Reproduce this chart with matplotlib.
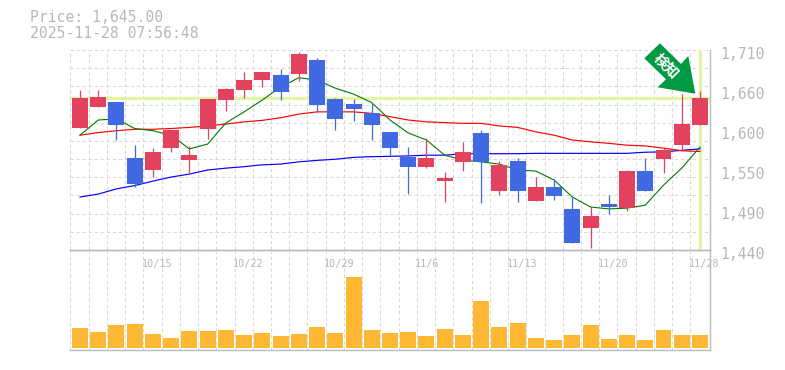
import numpy as np
import matplotlib
matplotlib.use("Agg")
import matplotlib.pyplot as plt
from matplotlib.patches import Polygon
from matplotlib.transforms import ScaledTranslation

# ---- data ----
opens = [1604.5, 1633, 1640, 1564, 1548, 1577.5, 1561.5, 1603.5, 1642.5, 1656, 1669.5, 1676, 1677.5, 1696.5,
         1644, 1637, 1625, 1599.5, 1565.5, 1552, 1533, 1558.5, 1597.5, 1519.5, 1560, 1506, 1525, 1495.5, 1469.5,
         1502, 1496.5, 1546.5, 1562.5, 1581.5, 1608.5]
closes = [1645, 1646, 1609, 1529, 1572.5, 1602, 1568, 1644, 1657, 1669.5, 1680, 1653.5, 1704.5, 1635.5,
          1617, 1630.5, 1608.5, 1577.5, 1552, 1564, 1537, 1572.5, 1559, 1555, 1519.5, 1525, 1513, 1449.5, 1486,
          1498, 1546, 1519.5, 1575, 1610, 1645]
highs = [1656, 1656, 1640, 1581.5, 1577.5, 1602, 1580.5, 1644, 1658.5, 1680.5, 1680, 1684.5, 1707, 1699,
         1645, 1644, 1638.5, 1599.5, 1579, 1591, 1545.5, 1586, 1602, 1560, 1564, 1538.5, 1536, 1513, 1499.5,
         1514, 1547.5, 1564, 1579, 1650.5, 1655]
lows = [1604.5, 1633, 1588.5, 1525, 1538.5, 1572.5, 1544, 1589.5, 1627.5, 1645, 1660, 1642.5, 1668, 1626.5,
        1602, 1614, 1588.5, 1568.5, 1515.5, 1550.5, 1505, 1546.5, 1503.5, 1514.5, 1505, 1506, 1507.5, 1449.5,
        1442.5, 1488.5, 1492.5, 1519.5, 1544, 1573.5, 1608.5]
ma_short = [1595, 1615.5, 1617, 1604, 1601, 1595, 1576.5, 1583, 1611.5, 1626.5, 1642.5, 1660, 1672.5, 1669.5,
            1658.5, 1650.5, 1639, 1615.5, 1598, 1588.5, 1568, 1561.5, 1559, 1556, 1548, 1546.5, 1534.5, 1511.5,
            1498, 1495.5, 1496.5, 1500.5, 1527.5, 1550.5, 1579]
ma_mid = [1595, 1598.5, 1601, 1603, 1603, 1604, 1605.5, 1607.5, 1610, 1613, 1615, 1618.5, 1623.5, 1626.5,
          1626.5, 1626.5, 1624.5, 1620, 1615.5, 1613, 1612, 1611, 1611, 1607.5, 1605.5, 1599.5, 1595, 1588.5,
          1586, 1584, 1581.5, 1580.5, 1577.5, 1574, 1573]
ma_long = [1511.5, 1515.5, 1522.5, 1527, 1533, 1538.5, 1542.5, 1548, 1550.5, 1552.5, 1555, 1556, 1559, 1561,
           1562.5, 1565, 1566, 1566.5, 1567, 1568, 1568, 1570, 1570, 1570, 1570, 1570.5, 1570.5, 1570.5,
           1570.5, 1570.5, 1570.5, 1572, 1572.5, 1574.5, 1576.5]
volumes = [20, 16, 23, 24, 14, 10, 17, 17, 18, 13, 15, 12, 14, 21, 15, 71, 18, 15, 16, 12, 19, 13, 47, 21, 25,
           10, 8, 13, 23, 9, 13, 8, 18, 13, 13]
date_idx = [4, 9, 14, 19, 24, 29, 34]
date_labels = ["10/15", "10/22", "10/29", "11/6", "11/13", "11/20", "11/28"]
price_ticks = [1440, 1494, 1548, 1602, 1656, 1710]
price_labels = ["1,440", "1,490", "1,550", "1,600", "1,660", "1,710"]
last_price = 1645.0
title_lines = ["Price: 1,645.00", "2025-11-28 07:56:48"]
badge_text = "検知"

# ---- style ----
W, H = 785, 370
RED, BLUE, ORANGE = "#e3425f", "#4169e1", "#ffb833"
GRID, AXIS, TEXT, HILITE = "#d8d8d8", "#bbbbbb", "#b8b8b8", "#e2f5a5"
BADGE = "#009944"
MONO = "DejaVu Sans Mono"
plt.rcParams["font.family"] = [MONO, "Noto Sans CJK JP"]

fig = plt.figure(figsize=(W / 100, H / 100), dpi=100, facecolor="white")
def rect(l, t, r, b):
    return [l / W, 1 - b / H, (r - l) / W, (b - t) / H]
ax = fig.add_axes(rect(70, 50, 710, 250))
axv = fig.add_axes(rect(70, 250, 710, 350))

n = len(closes)
x = np.arange(n)
xlim = (-0.548, 34.55)
ylim = (1440, 1710)
vlim = (-2, 98)
grid_x = np.arange(n) - 0.525
dash = (0, (3.2, 2.6))

for a, yl in ((ax, ylim), (axv, vlim)):
    a.set_xlim(xlim)
    a.set_ylim(yl)
    a.set_facecolor("none")
    a.vlines(grid_x, yl[0], yl[1], colors=GRID, linewidth=0.75, linestyles=dash, zorder=1, clip_on=False)
    for s in ("top", "left"):
        a.spines[s].set_visible(False)
    for s in ("right", "bottom"):
        a.spines[s].set_color(AXIS)
        a.spines[s].set_linewidth(1.0)
axv.spines["top"].set_visible(True)
axv.spines["top"].set_color(AXIS)
axv.spines["top"].set_linewidth(1.0)

ax.hlines(np.linspace(ylim[0], ylim[1], 12)[1:], xlim[0], xlim[1], colors=GRID, linewidth=0.75,
          linestyles=dash, zorder=1, clip_on=False)

# highlight lines
ax.axhline(last_price, color=HILITE, linewidth=2.3, zorder=2)
ax.axvline(x[-1], color=HILITE, linewidth=2.3, zorder=2)

# moving averages
ax.plot(x, ma_long, color="#0000ff", linewidth=0.85, zorder=3)
ax.plot(x, ma_mid, color="#ff0000", linewidth=0.85, zorder=3)
ax.plot(x, ma_short, color="#007a00", linewidth=0.8, zorder=3)

# candles
o, c = np.array(opens), np.array(closes)
colors = [RED if cc >= oo else BLUE for oo, cc in zip(o, c)]
ax.vlines(x, lows, highs, colors=colors, linewidth=0.9, zorder=4)
ax.bar(x, np.abs(c - o), bottom=np.minimum(o, c), width=0.877, color=colors, linewidth=0, zorder=5)

# volume
axv.bar(x, volumes, width=0.877, color=ORANGE, linewidth=0, zorder=3)

# price labels
ax.yaxis.tick_right()
ax.set_yticks(price_ticks, price_labels)
ax.tick_params(axis="y", length=0, pad=7, labelsize=10.6, labelcolor=TEXT)
ax.set_xticks([])
shift = ScaledTranslation(0, -3 / 100, fig.dpi_scale_trans)
for t in ax.get_yticklabels():
    t.set_transform(t.get_transform() + shift)

# date labels inside the top of the volume panel
axv.set_yticks([])
axv.xaxis.tick_top()
axv.set_xticks(date_idx, date_labels)
axv.tick_params(axis="x", length=0, pad=-14, labelsize=7.3, labelcolor=TEXT)
shift = ScaledTranslation(-11.3 / 100, 0, fig.dpi_scale_trans)
for t in axv.get_xticklabels():
    t.set_ha("left")
    t.set_transform(t.get_transform() + shift)

# header
for line, y in zip(title_lines, (18, 33)):
    fig.text(29.5 / W, 1 - y / H, line, color=TEXT, fontsize=10.6, ha="left", va="center")

# badge arrow
badge_px = [(660, 43.3), (644.3, 58.3), (666, 79.3), (657.7, 87.3), (695.3, 93.7), (688.3, 56), (681, 64)]
fig.add_artist(Polygon([(px / W, 1 - py / H) for px, py in badge_px], closed=True, transform=fig.transFigure,
                       facecolor=BADGE, edgecolor="none", zorder=10))
fig.text(667 / W, 1 - 66 / H, badge_text, color="white", fontsize=10.5, fontweight="bold", rotation=-45,
         rotation_mode="anchor", ha="center", va="center", family=["Noto Sans CJK JP"], zorder=11)

fig.savefig("out.png", dpi=100, facecolor="white")
